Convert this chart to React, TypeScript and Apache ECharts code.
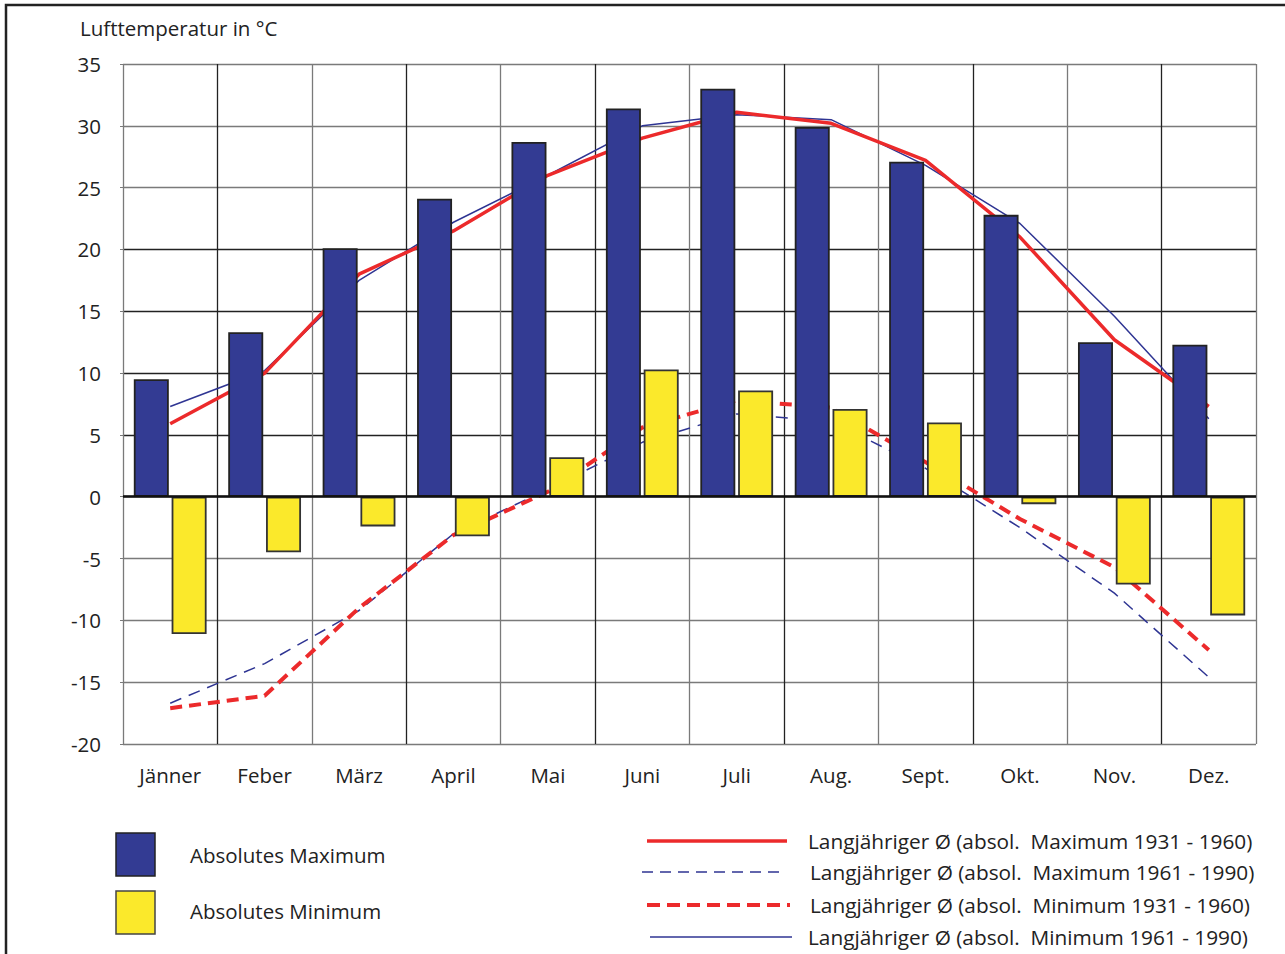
import React, { useEffect, useRef } from 'react';
import * as echarts from 'echarts';

const months = ['Jänner', 'Feber', 'März', 'April', 'Mai', 'Juni', 'Juli', 'Aug.', 'Sept.', 'Okt.', 'Nov.', 'Dez.'];
const absMax = [9.5, 13.3, 20.1, 24.1, 28.7, 31.4, 33.0, 29.9, 27.1, 22.8, 12.5, 12.3];
const absMin = [-11.1, -4.5, -2.4, -3.2, 3.2, 10.3, 8.6, 7.1, 6.0, -0.6, -7.1, -9.6];
// red solid line
const avgMax3160 = [5.9, 10.0, 18.0, 21.5, 26.0, 29.0, 31.1, 30.2, 27.2, 21.0, 12.7, 7.3];
// blue dashed line
const avgMax6190 = [-16.7, -13.5, -9.2, -3.0, 0.6, 4.4, 6.7, 6.1, 2.3, -2.5, -7.8, -14.6];
// red dashed line
const avgMin3160 = [-17.1, -16.1, -9.0, -3.1, 0.4, 5.6, 7.8, 7.2, 2.8, -1.8, -5.7, -12.4];
// blue thin solid line
const avgMin6190 = [7.3, 10.2, 17.5, 22.2, 26.0, 30.0, 30.9, 30.5, 26.8, 22.1, 14.6, 6.3];

const yMin = -20;
const yMax = 35;
const yStep = 5;

const axisTitle = 'Lufttemperatur in °C';
const barNames = ['Absolutes Maximum', 'Absolutes Minimum'];
const lineNames = [
  'Langjähriger Ø (absol.  Maximum 1931 - 1960)',
  'Langjähriger Ø (absol.  Maximum 1961 - 1990)',
  'Langjähriger Ø (absol.  Minimum 1931 - 1960)',
  'Langjähriger Ø (absol.  Minimum 1961 - 1990)',
];

const BLUE = '#333b93';
const YELLOW = '#fbe92b';
const RED = '#ec2a2b';
const LBLUE = '#2f3593';
const FONT = 'Open Sans';
const FS = 20.5;
const LFS = 20.8;
const TXT = '#222';

export default function App() {
  const ref = useRef<HTMLDivElement>(null);
  useEffect(() => {
    if (!ref.current) return;
    const chart = echarts.init(ref.current, undefined, { renderer: 'svg' });
    const gray = '#7a7a7a';
    const dark = '#222';
    const hColors = [gray, gray, gray, gray, dark, dark, dark, dark, dark, gray, gray, gray];
    const legendLines = [
      { x1: 647, x2: 787, y: 841, color: RED, width: 3.5, dash: null as any },
      { x1: 642, x2: 785, y: 872, color: LBLUE, width: 1.5, dash: [11, 7] },
      { x1: 647, x2: 790, y: 905, color: RED, width: 4, dash: [13, 7] },
      { x1: 650, x2: 792, y: 937, color: LBLUE, width: 1.5, dash: null as any },
    ];
    const legendTextX = [808, 810, 810, 808];
    const option: any = {
      animation: false,
      backgroundColor: '#fff',
      grid: { left: 123, right: 29, top: 64, bottom: 210, containLabel: false },
      xAxis: {
        type: 'category',
        data: months,
        boundaryGap: true,
        axisLine: { show: false },
        axisTick: { show: false },
        axisLabel: { fontFamily: FONT, fontSize: FS, color: TXT, margin: 20 },
        splitLine: { show: true, lineStyle: { color: [gray, dark], width: 1.3 } },
      },
      yAxis: {
        type: 'value',
        min: yMin,
        max: yMax,
        interval: yStep,
        axisLine: { show: false },
        axisTick: { show: true, length: 3, lineStyle: { color: gray } },
        axisLabel: { fontFamily: FONT, fontSize: FS, color: TXT, margin: 22 },
        splitLine: { show: true, lineStyle: { color: hColors, width: 1.3 } },
      },
      series: [
        {
          name: lineNames[1], type: 'line', data: avgMax6190, symbol: 'none', z: 2,
          lineStyle: { color: LBLUE, width: 1.5, type: [12, 8] },
        },
        {
          name: lineNames[3], type: 'line', data: avgMin6190, symbol: 'none', z: 2,
          lineStyle: { color: LBLUE, width: 1.5 },
        },
        {
          name: lineNames[2], type: 'line', data: avgMin3160, symbol: 'none', z: 2,
          lineStyle: { color: RED, width: 4, type: [12, 7] },
        },
        {
          name: lineNames[0], type: 'line', data: avgMax3160, symbol: 'none', z: 2,
          lineStyle: { color: RED, width: 3.5 },
        },
        {
          name: barNames[0], type: 'bar', data: absMax, z: 3,
          barWidth: 35, barGap: '8%',
          itemStyle: { color: BLUE, borderColor: '#222', borderWidth: 1.8 },
          markLine: {
            silent: true, symbol: 'none', label: { show: false },
            lineStyle: { color: '#111', width: 2.5, type: 'solid' },
            data: [{ yAxis: 0 }],
          },
        },
        {
          name: barNames[1], type: 'bar', data: absMin, z: 3,
          barWidth: 35, barGap: '8%',
          itemStyle: { color: YELLOW, borderColor: '#333', borderWidth: 1.8 },
        },
      ],
      graphic: [
        {
          type: 'rect', silent: true, z: 0,
          shape: { x: 6, y: 5, width: 1320, height: 1000 },
          style: { fill: 'none', stroke: '#222', lineWidth: 2.5 },
        },
        {
          type: 'text', x: 80, y: 28,
          style: { text: axisTitle, fontFamily: FONT, fontSize: FS, fill: TXT, verticalAlign: 'middle' },
        },
        {
          type: 'rect', shape: { x: 116, y: 833, width: 39, height: 43 },
          style: { fill: BLUE, stroke: '#222', lineWidth: 1.5 },
        },
        {
          type: 'rect', shape: { x: 116, y: 891, width: 39, height: 43 },
          style: { fill: YELLOW, stroke: '#444', lineWidth: 1.5 },
        },
        {
          type: 'text', x: 190, y: 855,
          style: { text: barNames[0], fontFamily: FONT, fontSize: FS, fill: TXT, verticalAlign: 'middle' },
        },
        {
          type: 'text', x: 190, y: 911,
          style: { text: barNames[1], fontFamily: FONT, fontSize: FS, fill: TXT, verticalAlign: 'middle' },
        },
        ...legendLines.map((l) => ({
          type: 'line',
          shape: { x1: l.x1, y1: l.y, x2: l.x2, y2: l.y },
          style: { stroke: l.color, lineWidth: l.width, lineDash: l.dash || undefined },
        })),
        ...lineNames.map((t, i) => ({
          type: 'text', x: legendTextX[i], y: legendLines[i].y,
          style: { text: t, fontFamily: FONT, fontSize: LFS, fill: TXT, verticalAlign: 'middle' },
        })),
      ],
    };
    chart.setOption(option);
    return () => chart.dispose();
  }, []);
  return (
    <div
      ref={ref}
      style={{ position: 'fixed', left: 0, top: 0, width: 1285, height: 954, background: '#fff' }}
    />
  );
}
